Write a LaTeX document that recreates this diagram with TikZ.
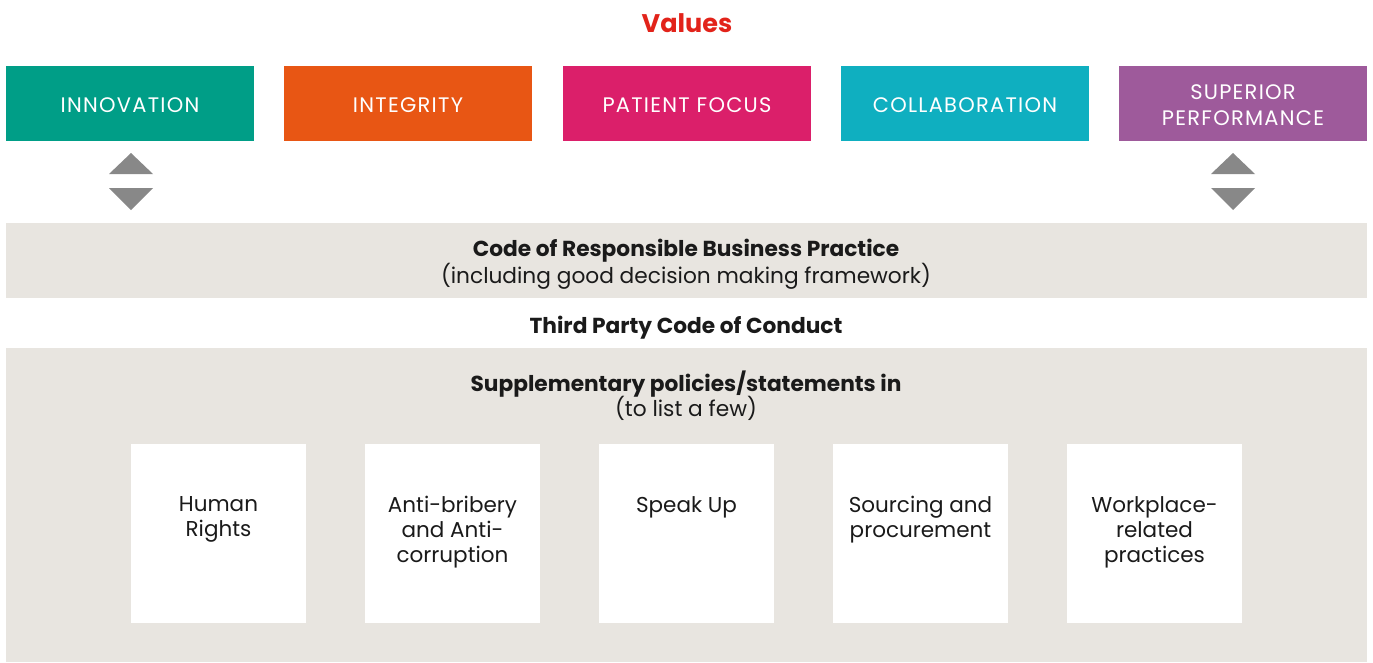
\documentclass[tikz,border=0pt]{standalone}
\usepackage{fontspec}
\setmainfont{Poppins}
\definecolor{cteal}{HTML}{009E87}
\definecolor{corange}{HTML}{E85614}
\definecolor{cpink}{HTML}{DB1F6A}
\definecolor{ccyan}{HTML}{0FAFC0}
\definecolor{cpurple}{HTML}{9E5A9B}
\definecolor{cgreybg}{HTML}{E8E5E0}
\definecolor{ctri}{HTML}{888888}
\definecolor{cred}{HTML}{E2231A}
\definecolor{ctext}{HTML}{1A1A1A}
\begin{document}
\begin{tikzpicture}[x=1pt,y=-1pt,
  valbox/.style={minimum width=248pt,minimum height=75pt,inner sep=0pt},
  valtext/.style={inner sep=0pt,text=white,align=center,font=\fontsize{21}{26}\selectfont\addfontfeature{LetterSpace=6}},
  band/.style={fill=cgreybg,minimum width=1361pt,inner sep=0pt},
  wbox/.style={fill=white,minimum width=175pt,minimum height=179pt,inner sep=0pt},
  wtext/.style={anchor=north,align=center,text=ctext,font=\fontsize{21.5}{25}\selectfont,inner sep=0pt},
  btext/.style={align=center,text=ctext,font=\fontsize{21.7}{26}\selectfont,inner sep=0pt},
  bbold/.style={btext,font=\fontsize{21.7}{26}\selectfont\bfseries},
  tri/.style={fill=ctri}]
\useasboundingbox (0,0) rectangle (1373,662);
\node[text=cred,font=\fontsize{25.5}{30}\selectfont\bfseries] (title) at (687,23) {Values};
\node[valbox,fill=cteal] (v1) at (130,103.5) {};
\node[valbox,fill=corange] (v2) at (408,103.5) {};
\node[valbox,fill=cpink] (v3) at (687,103.5) {};
\node[valbox,fill=ccyan] (v4) at (965,103.5) {};
\node[valbox,fill=cpurple] (v5) at (1243,103.5) {};
\node[valtext] (vt1) at (130,105) {INNOVATION};
\node[valtext] (vt2) at (408,105) {INTEGRITY};
\node[valtext] (vt3) at (687,105) {PATIENT FOCUS};
\node[valtext] (vt4) at (965,105) {COLLABORATION};
\node[valtext] (vt5) at (1243,105) {SUPERIOR\\PERFORMANCE};
% triangles
\foreach \cx in {131,1233}{
  \fill[tri] (\cx-22,174) -- (\cx,153) -- (\cx+22,174) -- cycle;
  \fill[tri] (\cx-22,188) -- (\cx,210) -- (\cx+22,188) -- cycle;
}
\node[band,minimum height=75pt] (code) at (686.5,260.5) {};
\node[bbold] (codet) at (686,251) {Code of Responsible Business Practice};
\node[btext] (codes) at (686,276) {(including good decision making framework)};
\node[bbold] (third) at (686,328) {Third Party Code of Conduct};
\node[band,minimum height=314pt] (supp) at (686.5,505) {};
\node[bbold] (suppt) at (686,384) {Supplementary policies/statements in};
\node[btext] (supps) at (686,408) {(to list a few)};
\node[wbox] (w1) at (218.5,533.5) {};
\node[wbox] (w2) at (452.5,533.5) {};
\node[wbox] (w3) at (686.5,533.5) {};
\node[wbox] (w4) at (920.5,533.5) {};
\node[wbox] (w5) at (1154.5,533.5) {};
\node[wtext] (t1) at (218.5,496) {Human\\Rights};
\node[wtext] (t2) at (452.5,496) {Anti-bribery\\and Anti-\\corruption};
\node[wtext] (t3) at (686.5,496) {Speak Up};
\node[wtext] (t4) at (920.5,496) {Sourcing and\\procurement};
\node[wtext] (t5) at (1154.5,496) {Workplace-\\related\\practices};
\end{tikzpicture}
\end{document}
